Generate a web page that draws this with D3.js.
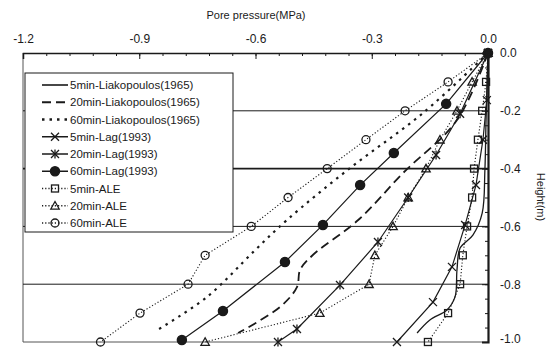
<!DOCTYPE html>
<html>
<head>
<meta charset="utf-8">
<script src="https://cdn.jsdelivr.net/npm/d3@7"></script>
<style>
  body { margin: 0; background: #fff; }
  svg { font-family: "Liberation Sans", Arial, sans-serif; }
</style>
</head>
<body>
<svg width="546" height="347"></svg>
<script>
// ---- data ----
const xTicks = [-1.2, -0.9, -0.6, -0.3, 0.0];
const yTicks = [0.0, -0.2, -0.4, -0.6, -0.8, -1.0];
const gridLevels = [-0.2, -0.4, -0.6, -0.8];

// Liakopoulos (1965) curves: pressure (MPa) vs height (m)
const liak5Height = [0, -0.23, -0.405, -0.554, -0.63, -0.675, -0.75, -0.844, -0.889, -0.924, -0.969];
const liak5 = [0, -0.005, -0.008, -0.015, -0.039, -0.072, -0.08, -0.085, -0.106, -0.15, -0.183];
const liak20Height = [0, -0.232, -0.415, -0.578, -0.699, -0.751, -0.81, -0.879, -0.969];
const liak20 = [0, -0.08, -0.219, -0.335, -0.452, -0.485, -0.493, -0.537, -0.645];
const liak60Height = [0, -0.208, -0.398, -0.578, -0.682, -0.844, -0.955];
const liak60 = [0, -0.168, -0.356, -0.519, -0.601, -0.725, -0.849];

// Lag (1993)
const lag5Height = [0, -0.163, -0.30, -0.457, -0.595, -0.74, -0.862, -1.0];
const lag5 = [0, -0.003, -0.013, -0.031, -0.059, -0.093, -0.142, -0.235];
const lag20Height = [0, -0.21, -0.353, -0.5, -0.654, -0.803, -0.955, -1.0];
const lag20 = [0, -0.072, -0.134, -0.206, -0.284, -0.382, -0.493, -0.542];
const lag60Height = [0, -0.176, -0.346, -0.457, -0.595, -0.723, -0.893, -0.993];
const lag60 = [0, -0.108, -0.243, -0.330, -0.426, -0.524, -0.684, -0.790];

// ALE
const aleHeight = [0, -0.1, -0.2, -0.3, -0.4, -0.5, -0.6, -0.7, -0.8, -0.9, -1.0];
const ale5 = [0, -0.005, -0.015, -0.026, -0.036, -0.041, -0.054, -0.065, -0.072, -0.103, -0.155];
const ale20 = [0, -0.041, -0.080, -0.124, -0.160, -0.206, -0.245, -0.292, -0.307, -0.434, -0.730];
const ale60 = [0, -0.103, -0.214, -0.315, -0.415, -0.516, -0.611, -0.73, -0.774, -0.898, -1.0];

const seriesNames = [
  "5min-Liakopoulos(1965)", "20min-Liakopoulos(1965)", "60min-Liakopoulos(1965)",
  "5min-Lag(1993)", "20min-Lag(1993)", "60min-Lag(1993)",
  "5min-ALE", "20min-ALE", "60min-ALE"
];

// ---- layout ----
const svg = d3.select("svg");
const mLeft = 23, mRight = 488, mTop = 53, mBottom = 342;

const x = d3.scaleLinear().domain([-1.2, 0]).range([mLeft, mRight]);
const y = d3.scaleLinear().domain([-1, 0]).range([mBottom, mTop]);
const fmt = d => d3.format(".1f")(d).replace("\u2212", "-");
const ink = "#1a1a1a";

// line styles per series
const styles = [
  {p: liak5, h: liak5Height, dash: null, w: 1.3, mark: null},
  {p: liak20, h: liak20Height, dash: "9,5", w: 1.8, mark: null},
  {p: liak60, h: liak60Height, dash: "2.5,5", w: 2.2, mark: null},
  {p: lag5, h: lag5Height, dash: null, w: 1.2, mark: "x"},
  {p: lag20, h: lag20Height, dash: null, w: 1.2, mark: "star"},
  {p: lag60, h: lag60Height, dash: null, w: 1.2, mark: "dot"},
  {p: ale5, h: aleHeight, dash: "1.2,2", w: 1.1, mark: "square"},
  {p: ale20, h: aleHeight, dash: "1.2,2", w: 1.1, mark: "triangle"},
  {p: ale60, h: aleHeight, dash: "1.2,2", w: 1.1, mark: "circle"}
];

// frame
svg.append("line").attr("x1", mLeft).attr("x2", mLeft).attr("y1", mTop).attr("y2", mBottom)
  .attr("stroke", "#555").attr("stroke-width", 1);
svg.append("line").attr("x1", mLeft).attr("x2", mRight).attr("y1", mBottom).attr("y2", mBottom)
  .attr("stroke", "#555").attr("stroke-width", 1);

// horizontal grid lines
svg.append("g").selectAll("line").data(gridLevels).enter().append("line")
  .attr("x1", mLeft).attr("x2", mRight)
  .attr("y1", d => y(d)).attr("y2", d => y(d))
  .attr("stroke", ink)
  .attr("stroke-width", d => d === -0.4 ? 1.6 : 1);

// top axis (ticks pointing inward)
const xMinor = d3.range(-1.2, 0.0001, 0.06);
svg.append("g").attr("transform", `translate(0,${mTop})`)
  .call(d3.axisTop(x).tickValues(xMinor).tickSize(-3).tickFormat(""))
  .call(g => g.select(".domain").remove())
  .selectAll("line").attr("stroke", ink);
const gx = svg.append("g").attr("transform", `translate(0,${mTop})`)
  .call(d3.axisTop(x).tickValues(xTicks).tickSize(-6).tickPadding(10).tickFormat(fmt));
gx.select(".domain").attr("stroke", ink).attr("stroke-width", 1.5);
gx.selectAll("line").attr("stroke", ink);
gx.selectAll("text").attr("font-size", 12).attr("fill", ink).attr("font-family", "Liberation Sans, Arial, sans-serif");

// right axis
const yMinor = d3.range(-1.0, 0.0001, 0.05);
svg.append("g").attr("transform", `translate(${mRight},0)`)
  .call(d3.axisRight(y).tickValues(yMinor).tickSize(-3).tickFormat(""))
  .call(g => g.select(".domain").remove())
  .selectAll("line").attr("stroke", ink);
const gy = svg.append("g").attr("transform", `translate(${mRight},0)`)
  .call(d3.axisRight(y).tickValues(yTicks).tickSize(-6).tickPadding(12).tickFormat(fmt));
gy.select(".domain").attr("stroke", ink).attr("stroke-width", 2.2);
gy.selectAll("line").attr("stroke", ink);
gy.selectAll("text").attr("font-size", 12).attr("fill", ink).attr("font-family", "Liberation Sans, Arial, sans-serif")
  .attr("dy", d => d === -1.0 ? "0.05em" : "0.32em");

// axis titles
svg.append("text").attr("x", 256).attr("y", 19).attr("text-anchor", "middle")
  .attr("font-size", 11).attr("fill", ink).text("Pore pressure(MPa)");
svg.append("text").attr("transform", "translate(537,197) rotate(90)")
  .attr("text-anchor", "middle").attr("font-size", 11).attr("fill", ink).text("Height(m)");

// marker drawing
function drawMark(g, type, cx, cy) {
  const s = g.append("g").attr("transform", `translate(${cx},${cy})`)
    .attr("stroke", ink).attr("stroke-width", 1.3).attr("fill", "none");
  if (type === "x" || type === "star") {
    s.append("path").attr("d", "M-4,-4L4,4M-4,4L4,-4");
    if (type === "star") s.append("path").attr("d", "M0,-4.5V4.5");
  } else if (type === "dot") {
    s.append("circle").attr("r", 4.6).attr("fill", ink);
  } else if (type === "square") {
    s.append("rect").attr("x", -3.5).attr("y", -3.5).attr("width", 7).attr("height", 7);
  } else if (type === "triangle") {
    s.append("path").attr("d", "M0,-4.2L4.2,3.3L-4.2,3.3Z");
  } else if (type === "circle") {
    s.append("circle").attr("r", 4);
  }
}

// series
const line = d3.line().x(d => x(d[0])).y(d => y(d[1]));
styles.forEach(st => {
  const pts = st.p.map((v, i) => [v, st.h[i]]);
  const c = st.mark ? d3.curveLinear : d3.curveCatmullRom;
  svg.append("path").datum(pts)
    .attr("d", line.curve(c))
    .attr("fill", "none").attr("stroke", ink)
    .attr("stroke-width", st.w)
    .attr("stroke-dasharray", st.dash);
  if (st.mark) pts.forEach(d => drawMark(svg, st.mark, x(d[0]), y(d[1])));
});

// legend
const lg = svg.append("g");
lg.append("rect").attr("x", 25).attr("y", 73).attr("width", 208).attr("height", 159)
  .attr("fill", "#fff").attr("stroke", ink).attr("stroke-width", 1);
seriesNames.forEach((name, i) => {
  const st = styles[i];
  const ly = 85 + i * 17.25;
  lg.append("line").attr("x1", 42).attr("x2", 68).attr("y1", ly).attr("y2", ly)
    .attr("stroke", ink).attr("stroke-width", st.w + 0.3)
    .attr("stroke-dasharray", st.dash);
  if (st.mark) drawMark(lg, st.mark, 55, ly);
  lg.append("text").attr("x", 70).attr("y", ly + 4).attr("font-size", 11.5)
    .attr("fill", ink).text(name);
});
</script>
</body>
</html>
